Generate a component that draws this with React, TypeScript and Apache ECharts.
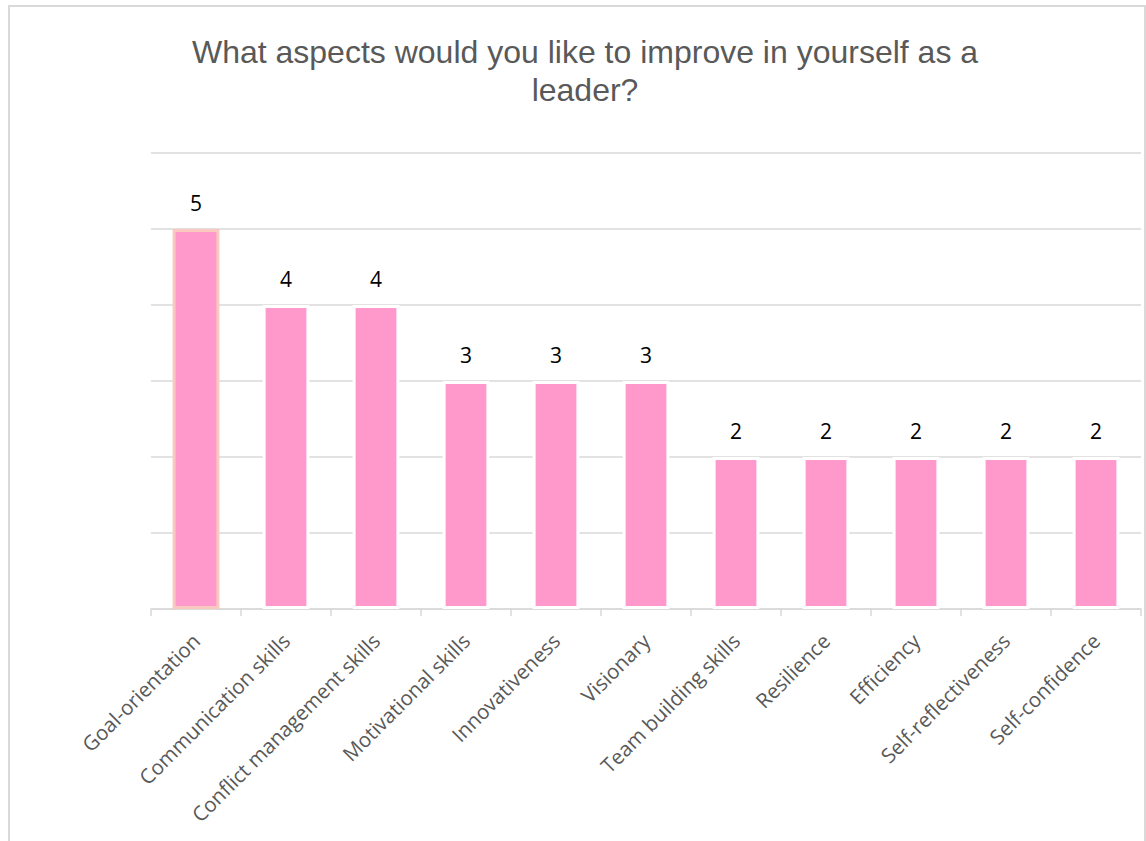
import React, { useEffect, useRef } from "react";
import * as echarts from "echarts";

const titleLines = ["What aspects would you like to improve in yourself as a", "leader?"];
const categories = [
  "Goal-orientation",
  "Communication skills",
  "Conflict management skills",
  "Motivational skills",
  "Innovativeness",
  "Visionary",
  "Team building skills",
  "Resilience",
  "Efficiency",
  "Self-reflectiveness",
  "Self-confidence",
];
const values = [5, 4, 4, 3, 3, 3, 2, 2, 2, 2, 2];
const yTicks = [0, 1, 2, 3, 4, 5, 6];

export default function App() {
  const ref = useRef<HTMLDivElement>(null);
  useEffect(() => {
    if (!ref.current) return;
    const chart = echarts.init(ref.current, undefined, { renderer: "svg" });
    chart.setOption({
      animation: false,
      backgroundColor: "#ffffff",
      graphic: [
        {
          type: "rect",
          shape: { x: 9, y: 6, width: 1136, height: 850 },
          style: { fill: "none", stroke: "#d9d9d9", lineWidth: 2 },
          silent: true,
        },
        {
          type: "text",
          x: 585,
          y: 52,
          style: {
            text: titleLines[0],
            textAlign: "center",
            textVerticalAlign: "middle",
            fontFamily: "Liberation Sans, Arial, sans-serif",
            fontSize: 32,
            fill: "#595959",
          },
        },
        {
          type: "text",
          x: 585,
          y: 90,
          style: {
            text: titleLines[1],
            textAlign: "center",
            textVerticalAlign: "middle",
            fontFamily: "Liberation Sans, Arial, sans-serif",
            fontSize: 32,
            fill: "#595959",
          },
        },
      ],
      grid: { left: 151, right: 5, top: 153, bottom: 232, containLabel: false },
      xAxis: {
        type: "category",
        data: categories,
        axisLine: { lineStyle: { color: "#d9d9d9", width: 1.5 } },
        axisTick: { show: true, alignWithLabel: false, length: 7, lineStyle: { color: "#d9d9d9", width: 1.5 } },
        axisLabel: {
          rotate: 45,
          interval: 0,
          margin: 28,
          color: "#595959",
          fontFamily: "Open Sans, sans-serif",
          fontSize: 20.5,
        },
      },
      yAxis: {
        type: "value",
        min: yTicks[0],
        max: yTicks[yTicks.length - 1],
        interval: 1,
        axisLabel: { show: false },
        axisLine: { show: false },
        axisTick: { show: false },
        splitLine: { lineStyle: { color: "#d9d9d9", width: 1.5 } },
      },
      series: [
        {
          type: "bar",
          data: values.map((v, i) =>
            i === 0
              ? { value: v, itemStyle: { borderColor: "#F9C9BF" } }
              : v
          ),
          barWidth: "52%",
          itemStyle: { color: "#FF99CC", borderColor: "#ffffff", borderWidth: 3 },
          label: {
            show: true,
            position: "top",
            distance: 16,
            color: "#000000",
            fontFamily: "Open Sans, sans-serif",
            fontSize: 21,
          },
        },
      ],
    });
    return () => chart.dispose();
  }, []);
  return (
    <div style={{ position: "fixed", left: 0, top: 0, width: 1146, height: 841 }}>
      <div ref={ref} style={{ width: 1146, height: 841 }} />
    </div>
  );
}
